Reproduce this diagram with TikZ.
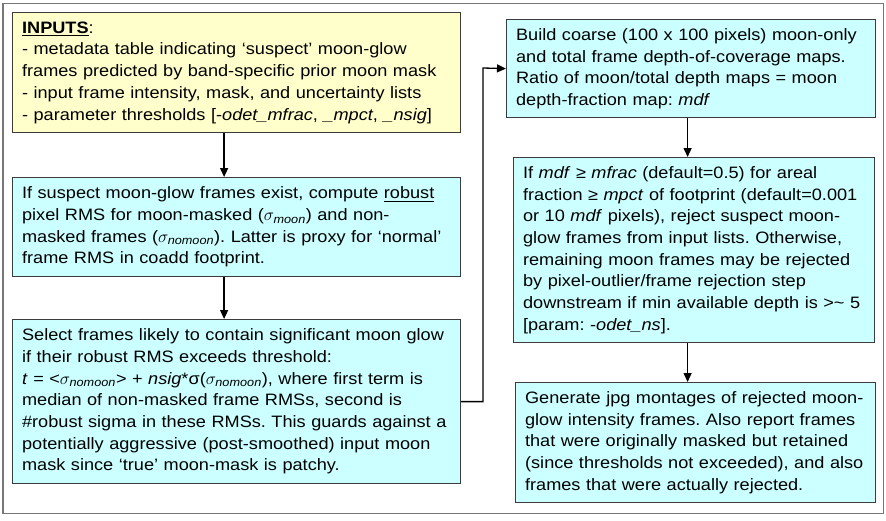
\documentclass[tikz,border=0pt]{standalone}
\usepackage{fontspec}
\usepackage{amsmath}
\setmainfont{Liberation Sans}[FakeStretch=1.1]
\usetikzlibrary{arrows.meta}
\definecolor{inyellow}{HTML}{FFFFCC}
\definecolor{stepcyan}{HTML}{CCFFFF}
\definecolor{edgegray}{HTML}{3C3C3C}
\definecolor{framegray}{HTML}{777777}
\newcommand{\sgm}[1]{$\sigma_{\text{\itshape #1}}$}
\frenchspacing
\begin{document}
\begin{tikzpicture}[>={Triangle[length=9pt,width=8pt]},x=1pt,y=-1pt,
	box/.style={draw=edgegray,line width=1.2pt,anchor=north west,align=left,inner xsep=9.5pt,inner ysep=0pt,
		font=\fontsize{16.5}{21.7}\selectfont},
	inbox/.style={box,fill=inyellow},
	stepbox/.style={box,fill=stepcyan},
	link/.style={->,line width=1.3pt,black}]
		\useasboundingbox (0,0) rectangle (886,520);
		\draw[framegray,line width=1.4pt] (3,3.5) rectangle (883.5,513.5);
		\node[inbox,text width=429pt,minimum height=120pt] (inputs) at (12,12)
			{\underline{\textbf{INPUTS}}:\\
			- metadata table indicating `suspect' moon-glow\\
			frames predicted by band-specific prior moon mask\\
			- input frame intensity, mask, and uncertainty lists\\
			- parameter thresholds [-\textit{odet\_mfrac}, \textit{\_mpct}, \textit{\_nsig}]};
		\node[stepbox,text width=429pt,minimum height=99pt] (rms) at (12,177)
			{If suspect moon-glow frames exist, compute \underline{robust}\\
			pixel RMS for moon-masked (\sgm{moon}) and non-\\
			masked frames (\sgm{nomoon}). Latter is proxy for `normal'\\
			frame RMS in coadd footprint.};
		\node[stepbox,text width=429pt,minimum height=164pt] (select) at (12,319)
			{Select frames likely to contain significant moon glow\\
			if their robust RMS exceeds threshold:\\
			\textit{t} = <\sgm{nomoon}> + \textit{nsig}*σ(\sgm{nomoon}), where first term is\\
			median of non-masked frame RMSs, second is\\
			\#robust sigma in these RMSs. This guards against a\\
			potentially aggressive (post-smoothed) input moon\\
			mask since `true' moon-mask is patchy.};
		\node[stepbox,text width=350pt,minimum height=98pt] (build) at (506,19)
			{Build coarse (100 x 100 pixels) moon-only\\
			and total frame depth-of-coverage maps.\\
			Ratio of moon/total depth maps = moon\\
			depth-fraction map: \textit{mdf}};
		\node[stepbox,text width=342pt,minimum height=185pt] (reject) at (513,157)
			{If \textit{mdf} ≥ \textit{mfrac} (default=0.5) for areal\\
			fraction ≥ \textit{mpct} of footprint (default=0.001\\
			or 10 \textit{mdf} pixels), reject suspect moon-\\
			glow frames from input lists. Otherwise,\\
			remaining moon frames may be rejected\\
			by pixel-outlier/frame rejection step\\
			downstream if min available depth is >\textasciitilde{} 5\\
			{[}param: -\textit{odet\_ns}].};
		\node[stepbox,text width=341pt,minimum height=120pt] (montage) at (515,382)
			{Generate jpg montages of rejected moon-\\
			glow intensity frames. Also report frames\\
			that were originally masked but retained\\
			(since thresholds not exceeded), and also\\
			frames that were actually rejected.};
		% left column
		\draw[link] ([xshift=-12.5pt]inputs.south) -- ([xshift=-12.5pt]rms.north);
		\draw[link] ([xshift=-12.5pt]rms.south) -- ([xshift=-12.5pt]select.north);
		% over to the right column
		\coordinate (bend) at (483,68);
		\draw[link] (select.east) -| (bend) -- (build.west);
		% right column
		\draw[link] ([xshift=-3.5pt]build.south) -- ([xshift=-3.5pt]build.south |- reject.north);
		\draw[link] ([xshift=-3.5pt]build.south |- reject.south) -- ([xshift=-3.5pt]build.south |- montage.north);
\end{tikzpicture}
\end{document}
